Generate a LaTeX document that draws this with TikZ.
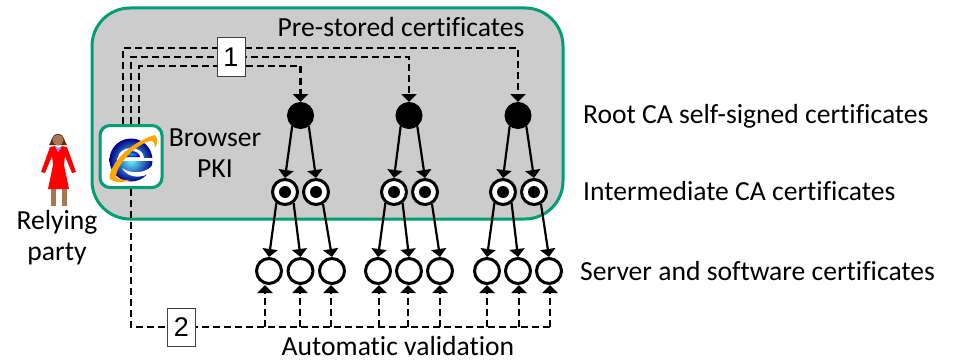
\documentclass[tikz,border=0pt]{standalone}
\usepackage{fontspec}
\setmainfont{Carlito}[Ligatures=NoCommon]
\newfontfamily\arialfont{Liberation Sans}
\usetikzlibrary{arrows.meta}
\definecolor{panelgreen}{RGB}{0,158,115}
\definecolor{panelgrey}{RGB}{204,204,204}
\definecolor{skin}{RGB}{168,120,84}
\definecolor{hair}{RGB}{96,40,16}
\tikzset{
  lbl/.style={inner sep=0pt,font=\fontsize{27.6}{30}\selectfont,text=black},
  root/.style={circle,fill=black,draw=black,line width=1pt,inner sep=0pt,minimum size=26pt},
  inter/.style={circle,fill=white,draw=black,line width=3pt,inner sep=0pt,minimum size=25pt,
     path picture={\fill[black] (path picture bounding box.center) circle (6pt);}},
  leaf/.style={circle,fill=white,draw=black,line width=3pt,inner sep=0pt,minimum size=25pt},
  solidarrow/.style={line width=2.2pt,-{Triangle[length=8pt,width=15pt]},shorten >=0pt},
  dashline/.style={line width=2.2pt,dash pattern=on 7pt off 4pt},
  dasharrow/.style={dashline,-{Triangle[length=8pt,width=15pt]}},
  numbox/.style={draw=black!75,fill=white,line width=1pt,inner sep=0pt,minimum width=28pt,minimum height=38pt,
     font=\arialfont\fontsize{27}{30}\selectfont},
}
\begin{document}
\begin{tikzpicture}[x=1pt,y=-1pt]
\useasboundingbox (0,0) rectangle (955,361);
% panel
\node[draw=panelgreen,fill=panelgrey,line width=3pt,rounded corners=38pt,minimum width=471pt,minimum height=211pt,inner sep=0pt] (panel) at (327.5,113.5) {};
% texts
\node[lbl] (pre) at (401,27) {Pre-stored certificates};
\node[lbl,anchor=west] (rootlbl) at (583,116) {Root CA self-signed certificates};
\node[lbl,anchor=west] (interlbl) at (583,191) {Intermediate CA certificates};
\node[lbl,anchor=west] (leaflbl) at (580,271) {Server and software certificates};
\node[lbl] (autolbl) at (398,346) {Automatic validation};
\node[lbl,align=center] (browserlbl) at (215,153) {Browser\\[1pt]PKI};
\node[lbl,align=center] (relylbl) at (57,238) {Relying\\[1pt]party};
% icon
\node[draw=panelgreen,fill=white,line width=3pt,rounded corners=10pt,minimum width=62pt,minimum height=62pt,inner sep=0pt] (icon) at (131,156.5) {};
\begin{scope}
  \shade[inner color=cyan!60!white,outer color=blue!55!black] (131,160) circle (21.5pt);
  \fill[white] (118,158) arc[start angle=180,end angle=0,x radius=13pt,y radius=10pt] -- cycle;
  \shade[inner color=cyan!70!blue,outer color=blue!70!black] (122,157) arc[start angle=180,end angle=0,x radius=9pt,y radius=6pt] -- cycle;
  \fill[white] (117,158) rectangle (153,161);
  \fill[white] (122,168) .. controls (130,174) and (144,174) .. (152,166) -- (152,171) .. controls (144,179) and (128,179) .. (122,168) -- cycle;
  \fill[orange!70!yellow] (110,179) .. controls (108,165) and (130,142) .. (155,135) .. controls (158,139) and (158,143) .. (155,148) .. controls (155,143) and (153,140) .. (150,141) .. controls (135,145) and (116,165) .. (116,177) .. controls (120,180) and (124,180) .. (130,180) .. controls (122,183) and (114,183) .. (110,179) -- cycle;
\end{scope}
% person
\fill[hair] (49,145) .. controls (52,142) and (51,134) .. (58,134) .. controls (65,134) and (64,142) .. (67,145) -- cycle;
\fill[skin] (58,140) circle (5.5pt);
\fill[skin] (51,189) rectangle (56,206);
\fill[skin] (62,189) rectangle (67,206);
\fill[red] (50,147) -- (55,146) -- (58,152) -- (62,146) -- (67,147) -- (76,172) -- (72,173) -- (65,156) -- (64,165) -- (69,189) -- (48,189) -- (53,165) -- (52,156) -- (45,173) -- (41,172) -- cycle;
\fill[blue!45!white] (55,146) -- (58,152) -- (62,146) -- (58,148) -- cycle;
% tree nodes
\node[root] (r1) at (300.5,115.5) {};
\node[root] (r2) at (409,115.5) {};
\node[root] (r3) at (518,115.5) {};
\foreach \n/\x in {a/285,b/316,c/394,d/425,e/503,f/534}
  \node[inter] (i\n) at (\x,192) {};
\foreach \n/\x in {1/269,2/300.5,3/332,4/378,5/409,6/440,7/487,8/518,9/549}
  \node[leaf] (l\n) at (\x,271) {};
% root to intermediate
\foreach \r/\p/\q in {r1/a/b,r2/c/d,r3/e/f}{
  \draw[solidarrow] (\r.232) -- (i\p.north);
  \draw[solidarrow] (\r.308) -- (i\q.north);
}
% intermediate to leaf
\foreach \i/\p/\q in {a/1/2,c/4/5,e/7/8}{
  \draw[solidarrow] (i\i.232) -- (l\p.north);
  \draw[solidarrow] (i\i.308) -- (l\q.north);
}
\draw[solidarrow] (ib.300) -- (l3.north);
\draw[solidarrow] (id.300) -- (l6.north);
\draw[solidarrow] (if.300) -- (l9.north);
% pre-stored connectors
\coordinate (t1) at (123,124);
\coordinate (t2) at (131,124);
\coordinate (t3) at (139,124);
\coordinate (c1) at (518,48);
\coordinate (c2) at (409,57);
\coordinate (c3) at (300.5,66);
\draw[dasharrow] (t1) |- (c1) -- (r3.north);
\draw[dasharrow] (t2) |- (c2) -- (r2.north);
\draw[dasharrow] (t3) |- (c3) -- (r1.north);
\node[numbox] (box1) at (231,57) {1};
% validation connectors
\coordinate (busstart) at (131,327);
\coordinate (busend) at (550,327);
\draw[dashline] (icon.south) -- (busstart) -- (busend);
\foreach \n/\x in {1/265,2/300,3/331,4/379,5/408,6/440,7/487,8/519,9/550}{
  \coordinate (v\n) at (\x,327);
  \draw[dasharrow] (v\n) -- (v\n |- l\n.south);
}
\node[numbox] (box2) at (181.5,327) {2};
\end{tikzpicture}
\end{document}
